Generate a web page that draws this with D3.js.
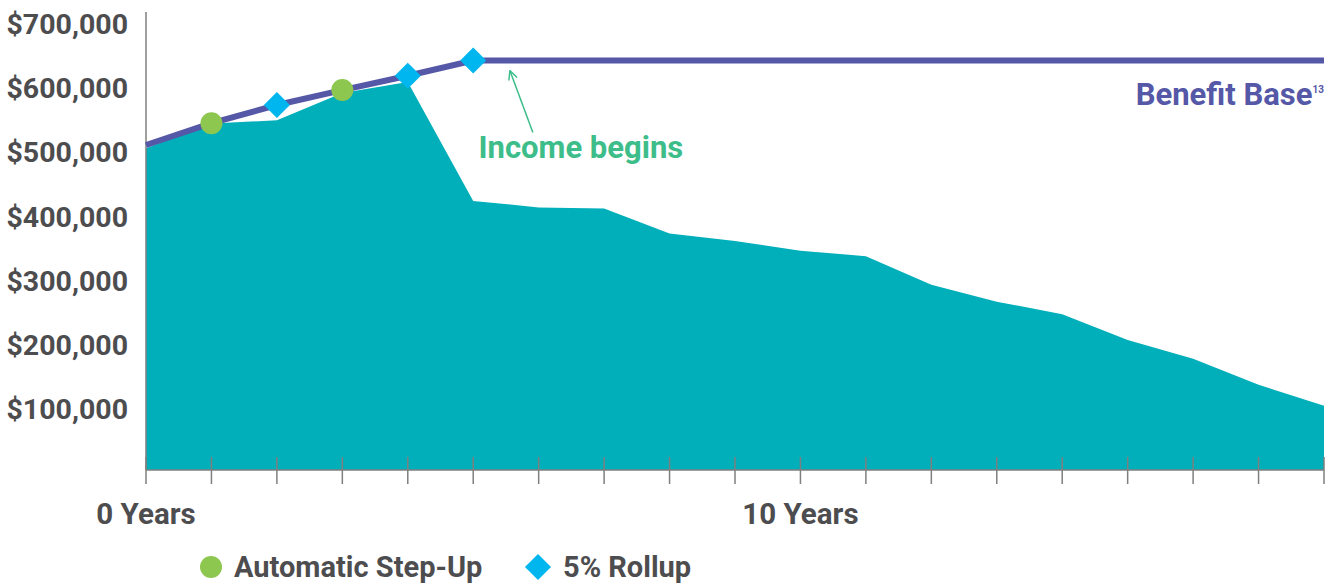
<!DOCTYPE html>
<html>
<head>
<meta charset="utf-8">
<script src="https://cdn.jsdelivr.net/npm/d3@7"></script>
<style>
  body { margin: 0; background: #fff; }
  text { font-family: Roboto, "Noto Sans", sans-serif; font-weight: 700; }
</style>
</head>
<body>
<script>
// years on the x axis
var years = d3.range(0, 19);
// account value (teal area)
var accountValue = [495000, 533000, 538000, 580000, 597000, 414000, 404000, 402500, 364000, 352500,
                    337500, 329000, 285000, 259000, 239500, 200000, 171000, 131000, 99000];
// benefit base (purple line)
var benefitBase = [500000, 533500, 561500, 584500, 606500, 630000, 630000, 630000, 630000, 630000,
                   630000, 630000, 630000, 630000, 630000, 630000, 630000, 630000, 630000];
// which years get which marker
var stepUpYears = [1, 3];
var rollupYears = [2, 4, 5];
var yTicks = [100000, 200000, 300000, 400000, 500000, 600000, 700000];
var xLabels = [{ year: 0, text: "0 Years" }, { year: 10, text: "10 Years" }];

var W = 1333, H = 584;
var grey = "#4d4d4f", axisCol = "#7f7f7f";
var lineCol = "#5557a7", areaCol = "#00afba";
var dotCol = "#8dc74f", diaCol = "#00b6ee", noteCol = "#3dbd8a";

var svg = d3.select("body").append("svg")
    .attr("width", W)
    .attr("height", H);

var x = d3.scaleLinear().domain([0, 18]).range([146, 1324]);
var y = d3.scaleLinear().domain([0, 700000]).range([470, 15]);
// the dollar labels sit a touch tighter than the plot scale
var yLab = d3.scaleLinear().domain([100000, 700000]).range([419, 34]);

// area
var area = d3.area()
    .x(function(d, i) { return x(years[i]); })
    .y0(y(0))
    .y1(function(d) { return y(d); });
svg.append("path")
    .datum(accountValue)
    .attr("d", area)
    .attr("fill", areaCol);

// axes
svg.append("line")
    .attr("x1", x(0)).attr("x2", x(0))
    .attr("y1", 12).attr("y2", y(0))
    .attr("stroke", axisCol).attr("stroke-width", 1.5);
svg.append("line")
    .attr("x1", x(0)).attr("x2", x(18))
    .attr("y1", y(0)).attr("y2", y(0))
    .attr("stroke", axisCol).attr("stroke-width", 1.5);
svg.selectAll(".tick")
    .data(years).enter()
    .append("line")
    .attr("x1", function(d) { return x(d); })
    .attr("x2", function(d) { return x(d); })
    .attr("y1", y(0) - 13)
    .attr("y2", y(0) + 14)
    .attr("stroke", axisCol).attr("stroke-width", 1.5);

// y labels
svg.selectAll(".ylab")
    .data(yTicks).enter()
    .append("text")
    .attr("x", 128)
    .attr("y", function(d) { return yLab(d); })
    .attr("text-anchor", "end")
    .attr("font-size", 28.5)
    .attr("fill", grey)
    .text(function(d) { return "$" + d3.format(",")(d); });

// x labels
svg.selectAll(".xlab")
    .data(xLabels).enter()
    .append("text")
    .attr("x", function(d) { return x(d.year); })
    .attr("y", 524)
    .attr("text-anchor", "middle")
    .attr("font-size", 29.5)
    .attr("fill", grey)
    .text(function(d) { return d.text; });

// benefit base line
var line = d3.line()
    .x(function(d, i) { return x(years[i]); })
    .y(function(d) { return y(d); });
svg.append("path")
    .datum(benefitBase)
    .attr("d", line)
    .attr("fill", "none")
    .attr("stroke", lineCol)
    .attr("stroke-width", 6);

// markers
svg.selectAll(".dot")
    .data(stepUpYears).enter()
    .append("circle")
    .attr("cx", function(d) { return x(d); })
    .attr("cy", function(d) { return y(benefitBase[d]); })
    .attr("r", 11)
    .attr("fill", dotCol);

var diamond = d3.symbol().type(d3.symbolSquare).size(340);
svg.selectAll(".dia")
    .data(rollupYears).enter()
    .append("path")
    .attr("d", diamond)
    .attr("transform", function(d) {
        return "translate(" + x(d) + "," + y(benefitBase[d]) + ") rotate(45)";
    })
    .attr("fill", diaCol);

// Benefit Base label
var bb = svg.append("text")
    .attr("x", x(18))
    .attr("y", y(benefitBase[18]) + 44)
    .attr("text-anchor", "end")
    .attr("fill", lineCol);
bb.append("tspan").attr("font-size", 31).text("Benefit Base");
bb.append("tspan").attr("font-size", 10).attr("dy", -12).text("13");

// Income begins annotation
var tipX = x(5.56), tipY = y(benefitBase[5]) + 10;
var tailX = tipX + 23, tailY = tipY + 62;
svg.append("line")
    .attr("x1", tailX).attr("y1", tailY)
    .attr("x2", tipX).attr("y2", tipY)
    .attr("stroke", noteCol).attr("stroke-width", 1.5);
var ang = Math.atan2(tailY - tipY, tailX - tipX);
[0.45, -0.45].forEach(function(a) {
    svg.append("line")
        .attr("x1", tipX).attr("y1", tipY)
        .attr("x2", tipX + 10 * Math.cos(ang + a))
        .attr("y2", tipY + 10 * Math.sin(ang + a))
        .attr("stroke", noteCol).attr("stroke-width", 1.5);
});
svg.append("text")
    .attr("x", x(5.08))
    .attr("y", 158)
    .attr("font-size", 31)
    .attr("fill", noteCol)
    .text("Income begins");

// legend
svg.append("circle")
    .attr("cx", 211).attr("cy", 567).attr("r", 11)
    .attr("fill", dotCol);
svg.append("text")
    .attr("x", 234).attr("y", 577)
    .attr("font-size", 29).attr("fill", grey)
    .text("Automatic Step-Up");
svg.append("path")
    .attr("d", diamond)
    .attr("transform", "translate(538,567) rotate(45)")
    .attr("fill", diaCol);
svg.append("text")
    .attr("x", 563).attr("y", 577)
    .attr("font-size", 29).attr("fill", grey)
    .text("5% Rollup");
</script>
</body>
</html>
